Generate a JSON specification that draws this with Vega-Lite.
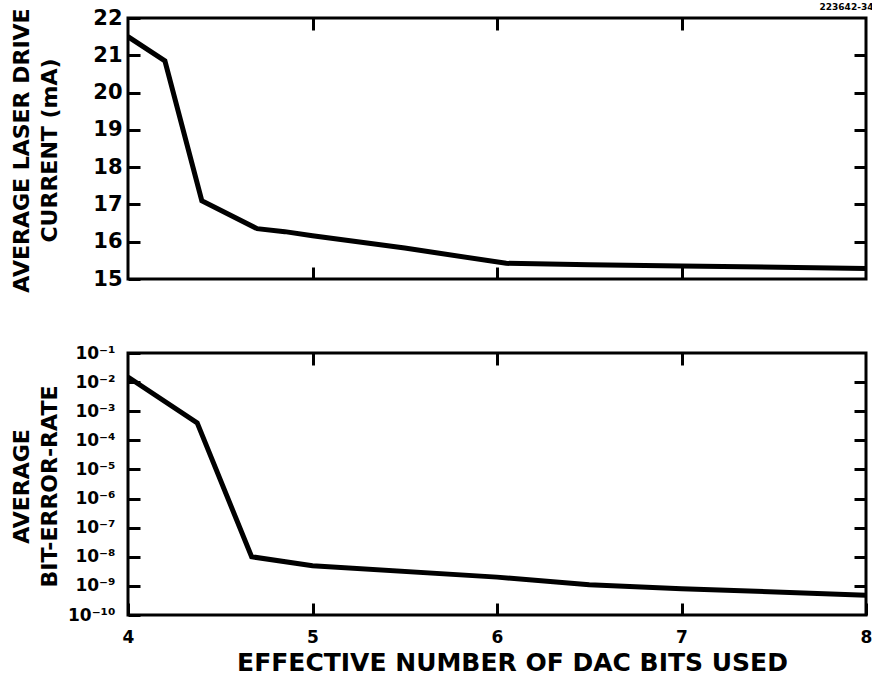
{
  "$schema": "https://vega.github.io/schema/vega-lite/v6.json",
  "padding": {"left": 8, "top": 2, "right": 4, "bottom": 2},
  "background": "white",
  "config": {
    "font": "DejaVu Sans",
    "view": {"stroke": "black", "strokeWidth": 3},
    "axis": {
      "domain": false,
      "grid": false,
      "tickColor": "black",
      "tickWidth": 3,
      "tickSize": 12,
      "offset": -12,
      "labelColor": "black",
      "labelFontWeight": "bold",
      "titleColor": "black",
      "titleFontWeight": "bold"
    }
  },
  "title": {"text": "223642-34", "anchor": "end", "fontSize": 9, "fontWeight": "bold", "offset": -6, "color": "black"},
  "spacing": 48,
  "vconcat": [
    {
      "width": 738,
      "height": 261,
      "data": {"values": [
        {"bits": 4.0, "current": 21.5},
        {"bits": 4.2, "current": 20.85},
        {"bits": 4.4, "current": 17.1},
        {"bits": 4.7, "current": 16.35},
        {"bits": 4.85, "current": 16.27},
        {"bits": 5.0, "current": 16.16},
        {"bits": 5.5, "current": 15.83},
        {"bits": 6.05, "current": 15.42},
        {"bits": 6.5, "current": 15.38},
        {"bits": 7.0, "current": 15.35},
        {"bits": 8.0, "current": 15.28}
      ]},
      "layer": [
        {
          "mark": {"type": "line", "color": "black", "strokeWidth": 5, "clip": true},
          "encoding": {
            "x": {"field": "bits", "type": "quantitative", "scale": {"domain": [4, 8], "nice": false},
                  "axis": {"orient": "bottom", "offset": -12, "values": [5, 6, 7], "labels": false, "title": null}},
            "y": {"field": "current", "type": "quantitative", "scale": {"domain": [15, 22], "nice": false, "zero": false},
                  "axis": {"orient": "left", "offset": -12, "values": [15, 16, 17, 18, 19, 20, 21, 22], "labelFontSize": 21, "labelPadding": 6,
                           "title": ["AVERAGE LASER DRIVE", "CURRENT (mA)"], "titleFontSize": 22, "titleLineHeight": 28,
                           "titleX": -129, "titleY": 132, "titleBaseline": "top", "titleAlign": "center"}}
          }
        },
        {
          "mark": {"type": "line", "opacity": 0},
          "encoding": {
            "x": {"field": "bits", "type": "quantitative", "axis": {"orient": "top", "offset": -12, "values": [5, 6, 7], "labels": false, "title": null}},
            "y": {"field": "current", "type": "quantitative", "axis": {"orient": "right", "offset": -12, "values": [16, 17, 18, 19, 20, 21], "labels": false, "title": null}}
          }
        }
      ],
      "resolve": {"axis": {"x": "independent", "y": "independent"}}
    },
    {
      "width": 738,
      "height": 262,
      "data": {"values": [
        {"bits": 4.0, "ber": 1.5e-2},
        {"bits": 4.375, "ber": 4e-4},
        {"bits": 4.67, "ber": 1e-8},
        {"bits": 5.0, "ber": 4.9e-9},
        {"bits": 6.0, "ber": 2e-9},
        {"bits": 6.5, "ber": 1.1e-9},
        {"bits": 7.0, "ber": 8e-10},
        {"bits": 8.0, "ber": 4.8e-10}
      ]},
      "layer": [
        {
          "mark": {"type": "line", "color": "black", "strokeWidth": 5, "clip": true},
          "encoding": {
            "x": {"field": "bits", "type": "quantitative", "scale": {"domain": [4, 8], "nice": false},
                  "axis": {"orient": "bottom", "offset": -12, "values": [4, 5, 6, 7, 8], "format": "d", "labelFontSize": 17, "labelPadding": 14,
                           "labelFlush": false,
                           "title": "EFFECTIVE NUMBER OF DAC BITS USED", "titleFontSize": 25, "titlePadding": 5, "titleX": 384}},
            "y": {"field": "ber", "type": "quantitative", "scale": {"type": "log", "domain": [1e-10, 0.1], "nice": false},
                  "axis": {"orient": "left", "offset": -12, "values": [1e-10, 1e-9, 1e-8, 1e-7, 1e-6, 1e-5, 1e-4, 1e-3, 1e-2, 1e-1],
                           "labelExpr": "'10' + ['⁻¹','⁻²','⁻³','⁻⁴','⁻⁵','⁻⁶','⁻⁷','⁻⁸','⁻⁹','⁻¹⁰'][-round(log(datum.value)/LN10)-1]",
                           "labelFontSize": 17, "labelPadding": 13,
                           "title": ["AVERAGE", "BIT-ERROR-RATE"], "titleFontSize": 22, "titleLineHeight": 28,
                           "titleX": -129, "titleY": 133, "titleBaseline": "top", "titleAlign": "center"}}
          }
        },
        {
          "mark": {"type": "line", "opacity": 0},
          "encoding": {
            "x": {"field": "bits", "type": "quantitative", "axis": {"orient": "top", "offset": -12, "values": [5, 6, 7], "labels": false, "title": null}},
            "y": {"field": "ber", "type": "quantitative", "axis": {"orient": "right", "offset": -12, "values": [1e-9, 1e-8, 1e-7, 1e-6, 1e-5, 1e-4, 1e-3, 1e-2], "labels": false, "title": null}}
          }
        }
      ],
      "resolve": {"axis": {"x": "independent", "y": "independent"}}
    }
  ]
}
